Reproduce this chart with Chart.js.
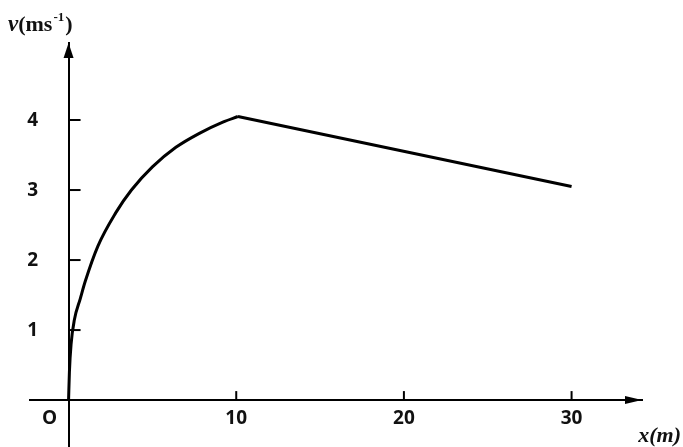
<!DOCTYPE html>
<html>
<head>
<meta charset="utf-8">
<script src="https://cdn.jsdelivr.net/npm/chart.js@4.4.0/dist/chart.umd.min.js"></script>
<style>
  html, body { margin: 0; padding: 0; background: #fff; }
  #wrap { width: 683px; height: 447px; }
</style>
</head>
<body>
<div id="wrap"><canvas id="chart"></canvas></div>
<script>
// distance x (m) and speed v (m/s)
const curveX = [0, 0.05, 0.15, 0.35, 0.7, 1.0, 1.75, 2.8, 3.75, 5.0, 6.4, 7.8, 9.2, 10.1];
const curveV = [0, 0.4, 0.8, 1.15, 1.45, 1.7, 2.2, 2.67, 3.0, 3.33, 3.61, 3.81, 3.97, 4.05];
const lineX = [10.1, 30];
const lineV = [4.05, 3.05];
const xTicks = [10, 20, 30];
const yTicks = [1, 2, 3, 4];

const tickFont = { family: 'Open Sans', size: 19, weight: 'bold' };

// arrows, inward tick marks, y labels, origin label and axis titles
const axisDecor = {
  id: 'axisDecor',
  afterDraw(chart) {
    const { ctx, chartArea, scales } = chart;
    const x0 = scales.x.getPixelForValue(0);
    const y0 = scales.y.getPixelForValue(0);
    ctx.save();
    ctx.fillStyle = '#000';
    ctx.strokeStyle = '#000';
    ctx.lineWidth = 2;

    // y arrow
    ctx.beginPath();
    ctx.moveTo(x0, chartArea.top);
    ctx.lineTo(x0 - 5, chartArea.top + 15);
    ctx.lineTo(x0 + 5, chartArea.top + 15);
    ctx.closePath();
    ctx.fill();
    // x arrow
    ctx.beginPath();
    ctx.moveTo(chartArea.right, y0);
    ctx.lineTo(chartArea.right - 17, y0 - 4);
    ctx.lineTo(chartArea.right - 17, y0 + 4);
    ctx.closePath();
    ctx.fill();

    // tick marks pointing into the plot
    yTicks.forEach(v => {
      const py = scales.y.getPixelForValue(v);
      ctx.beginPath();
      ctx.moveTo(x0, py);
      ctx.lineTo(x0 + 12, py);
      ctx.stroke();
    });
    xTicks.forEach(v => {
      const px = scales.x.getPixelForValue(v);
      ctx.beginPath();
      ctx.moveTo(px, y0);
      ctx.lineTo(px, y0 - 9);
      ctx.stroke();
    });

    // y tick labels and origin
    ctx.font = 'bold 19px "Open Sans"';
    ctx.fillStyle = '#111';
    ctx.textAlign = 'center';
    ctx.textBaseline = 'middle';
    yTicks.forEach(v => {
      ctx.fillText(String(v), x0 - 36, scales.y.getPixelForValue(v) + 1);
    });
    ctx.fillText('O', x0 - 19, y0 + 19);

    // axis titles
    ctx.textBaseline = 'alphabetic';
    ctx.textAlign = 'left';
    let tx = 8;
    const ty = 31;
    ctx.font = 'italic bold 23px "Liberation Serif"';
    ctx.fillText('v', tx, ty);
    tx += ctx.measureText('v').width;
    ctx.font = 'bold 22px "Liberation Serif"';
    ctx.fillText('(ms', tx, ty);
    tx += ctx.measureText('(ms').width;
    ctx.font = 'bold 13px "Liberation Serif"';
    ctx.fillText('-1', tx + 1, ty - 10);
    tx += ctx.measureText('-1').width + 2;
    ctx.font = 'bold 22px "Liberation Serif"';
    ctx.fillText(')', tx, ty);

    ctx.font = 'italic bold 22px "Liberation Serif"';
    ctx.textAlign = 'right';
    ctx.fillText('x(m)', 681, 442);
    ctx.restore();
  }
};

const ctx = document.getElementById('chart').getContext('2d');
const chart = new Chart(ctx, {
  type: 'line',
  data: {
    datasets: [{
      data: curveX.map((x, i) => ({ x: x, y: curveV[i] })),
      borderColor: '#000',
      borderWidth: 3,
      pointRadius: 0,
      cubicInterpolationMode: 'monotone',
      fill: false
    }, {
      data: lineX.map((x, i) => ({ x: x, y: lineV[i] })),
      borderColor: '#000',
      borderWidth: 3,
      pointRadius: 0,
      tension: 0,
      fill: false
    }]
  },
  options: {
    responsive: true,
    maintainAspectRatio: false,
    animation: false,
    layout: { padding: { left: 30, right: 41, top: 43, bottom: -39 } },
    plugins: { legend: { display: false }, tooltip: { enabled: false } },
    scales: {
      x: {
        type: 'linear',
        min: -2.3,
        max: 34.2,
        position: { y: 0 },
        afterBuildTicks: s => { s.ticks = xTicks.map(v => ({ value: v })); },
        grid: { display: true, drawOnChartArea: false, drawTicks: false },
        border: { display: true, color: '#000', width: 2 },
        ticks: { font: tickFont, color: '#111', padding: 7 }
      },
      y: {
        type: 'linear',
        min: -0.67,
        max: 5.1,
        position: { x: 0 },
        afterBuildTicks: s => { s.ticks = yTicks.map(v => ({ value: v })); },
        grid: { display: true, drawOnChartArea: false, drawTicks: false },
        border: { display: true, color: '#000', width: 2 },
        ticks: { display: false }
      }
    }
  },
  plugins: [axisDecor]
});
</script>
</body>
</html>
